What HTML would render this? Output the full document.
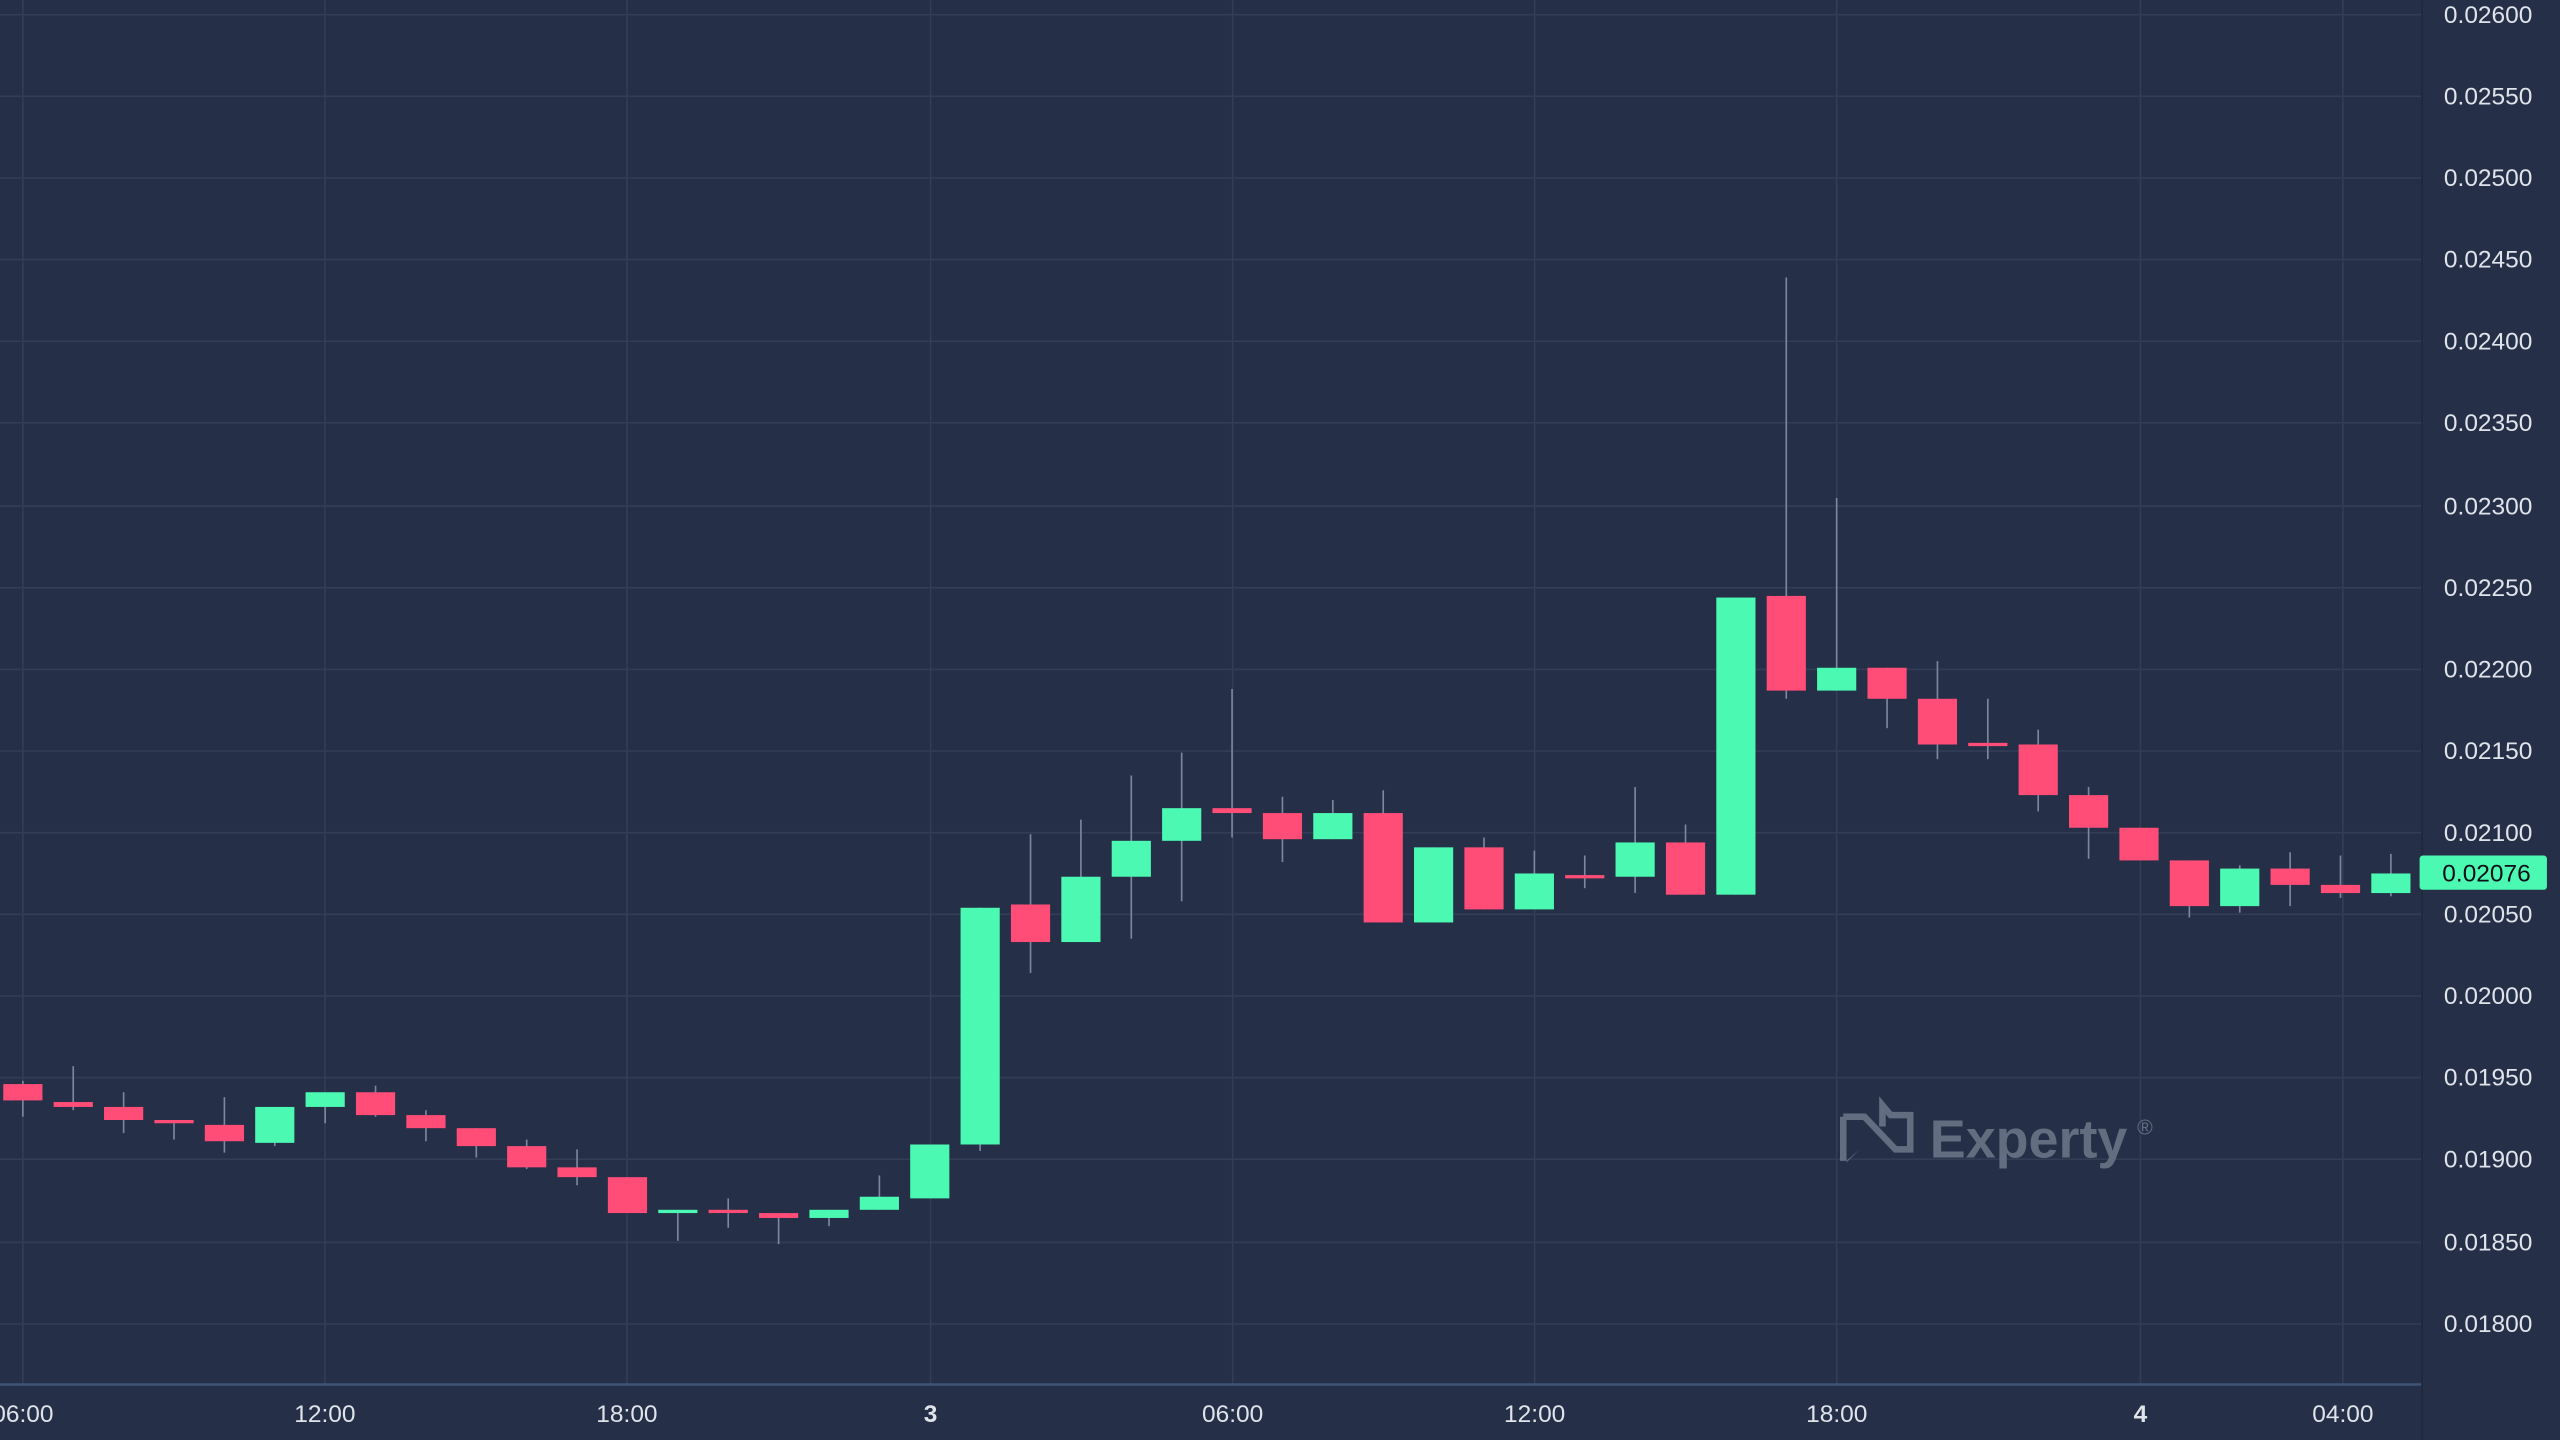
<!DOCTYPE html>
<html><head><meta charset="utf-8"><style>
html,body{margin:0;padding:0;background:#252f47;overflow:hidden}
svg{display:block}
text{font-family:"Liberation Sans",sans-serif}
</style></head><body>
<svg id="s" width="2560" height="1440" viewBox="0 0 1568 882" xmlns="http://www.w3.org/2000/svg">
<rect x="0" y="0" width="1568" height="882" fill="#252f47"/>
<g stroke="#323d56" stroke-width="1">
<line x1="0" y1="9" x2="1483" y2="9"/><line x1="0" y1="59" x2="1483" y2="59"/><line x1="0" y1="109" x2="1483" y2="109"/><line x1="0" y1="159" x2="1483" y2="159"/><line x1="0" y1="209" x2="1483" y2="209"/><line x1="0" y1="259" x2="1483" y2="259"/><line x1="0" y1="310" x2="1483" y2="310"/><line x1="0" y1="360" x2="1483" y2="360"/><line x1="0" y1="410" x2="1483" y2="410"/><line x1="0" y1="460" x2="1483" y2="460"/><line x1="0" y1="510" x2="1483" y2="510"/><line x1="0" y1="560" x2="1483" y2="560"/><line x1="0" y1="610" x2="1483" y2="610"/><line x1="0" y1="660" x2="1483" y2="660"/><line x1="0" y1="710" x2="1483" y2="710"/><line x1="0" y1="761" x2="1483" y2="761"/><line x1="0" y1="811" x2="1483" y2="811"/>
<line x1="14" y1="0" x2="14" y2="848"/><line x1="199" y1="0" x2="199" y2="848"/><line x1="384" y1="0" x2="384" y2="848"/><line x1="570" y1="0" x2="570" y2="848"/><line x1="755" y1="0" x2="755" y2="848"/><line x1="940" y1="0" x2="940" y2="848"/><line x1="1125" y1="0" x2="1125" y2="848"/><line x1="1311" y1="0" x2="1311" y2="848"/><line x1="1435" y1="0" x2="1435" y2="848"/>
</g>
<line x1="1483.5" y1="0" x2="1483.5" y2="882" stroke="#1f283c" stroke-width="1"/>
<line x1="0" y1="848" x2="1483" y2="848" stroke="#3e5478" stroke-width="1.5"/>
<g id="c"></g>
<g fill="#dfe3ea" font-size="15" text-anchor="middle">
<text x="1524" y="14">0.02600</text><text x="1524" y="64">0.02550</text><text x="1524" y="114">0.02500</text><text x="1524" y="164">0.02450</text><text x="1524" y="214">0.02400</text><text x="1524" y="264">0.02350</text><text x="1524" y="315">0.02300</text><text x="1524" y="365">0.02250</text><text x="1524" y="415">0.02200</text><text x="1524" y="465">0.02150</text><text x="1524" y="515">0.02100</text><text x="1524" y="565">0.02050</text><text x="1524" y="615">0.02000</text><text x="1524" y="665">0.01950</text><text x="1524" y="715">0.01900</text><text x="1524" y="766">0.01850</text><text x="1524" y="816">0.01800</text>
<text x="14" y="871">06:00</text><text x="199" y="871">12:00</text><text x="384" y="871">18:00</text><text x="570" y="871" font-weight="bold">3</text><text x="755" y="871">06:00</text><text x="940" y="871">12:00</text><text x="1125" y="871">18:00</text><text x="1311" y="871" font-weight="bold">4</text><text x="1435" y="871">04:00</text>
</g>
<rect x="1482" y="524" width="78" height="21" rx="2" fill="#4cf9b2"/>
<text x="1523" y="540" font-size="15" text-anchor="middle" fill="#0a0f18">0.02076</text>
<g opacity="0.9">
<path d="M1129 684 L1129 711 M1129 684 L1142 684 L1161 704 L1170 704 L1170 683 L1158 683 L1153 677 L1153 690" fill="none" stroke="#6a7487" stroke-width="4"/>
<path d="M1131 711 L1139 704 L1131 712 Z" fill="#6a7487"/>
<text x="1182" y="709" font-size="33" font-weight="bold" fill="#6a7487">Experty</text>
<text x="1309" y="695" font-size="13" fill="#6a7487">®</text>
</g>
</svg>
<script>
var d=[
['r',664,674,662,684],['r',675,678,653,680],['r',678,686,669,694],['r',686,688,686,698],['r',689,699,672,706],['g',678,700,678,702],['g',669,678,669,688],['r',669,683,665,684],['r',683,691,680,699],['r',691,702,691,709],['r',702,715,698,716],['r',715,721,704,726],['r',721,743,721,743],['g',741,743,741,760],['r',741,743,734,752],['r',743,746,743,762],['g',741,746,741,751],['g',733,741,720,741],['g',701,734,701,734],['g',556,701,556,705],['r',554,577,511,596],['g',537,577,502,577],['g',515,537,475,575],['g',495,515,461,552],['r',495,498,422,513],['r',498,514,488,528],['g',498,514,490,514],['r',498,565,484,565],['g',519,565,519,565],['r',519,557,513,557],['g',535,557,521,557],['r',536,538,524,544],['g',516,537,482,547],['r',516,548,505,548],['g',366,548,366,548],['r',365,423,170,428],['g',409,423,305,423],['r',409,428,409,446],['r',428,456,405,465],['r',455,457,428,465],['r',456,487,447,497],['r',487,507,482,526],['r',507,527,507,527],['r',527,555,527,562],['g',532,555,530,559],['r',532,542,522,555],['r',542,547,524,550],['g',535,547,523,549]];
var g=document.getElementById('c'),h='';
d.forEach(function(c,i){var x=14+i*30.86,col=c[0]=='g'?'#4cf9b2':'#ff4d78';
h+='<line x1="'+x+'" x2="'+x+'" y1="'+c[3]+'" y2="'+c[4]+'" stroke="#7d889f" stroke-width="1"/>';
h+='<rect x="'+(x-12)+'" y="'+c[1]+'" width="24" height="'+Math.max(2,c[2]-c[1])+'" fill="'+col+'"/>';});
g.innerHTML=h;
</script>
</body></html>
